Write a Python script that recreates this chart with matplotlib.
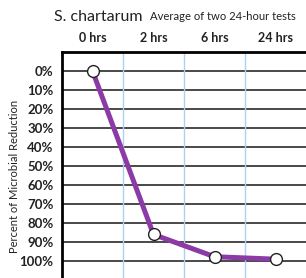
import matplotlib.pyplot as plt
import numpy as np

# datos
tiempos = ['0 hrs', '2 hrs', '6 hrs', '24 hrs']
reduccion = [0, 86, 97.7, 99]
etiquetas_y = ['0%', '10%', '20%', '30%', '40%', '50%', '60%', '70%', '80%', '90%', '100%']
niveles = np.arange(0, 101, 10)

plt.rcParams['font.family'] = ['Lato', 'DejaVu Sans']

fig = plt.figure(figsize=(3.06, 2.78), dpi=100)
ax = fig.add_axes([62 / 306, 0, 1 - 62 / 306, 1 - 52 / 278])

x = np.arange(len(tiempos))

# lineas de la cuadricula
for n in niveles:
    ax.axhline(n, color='#2a2a2a', lw=1.2, zorder=1)
for b in x[1:] - 0.5:
    ax.axvline(b, color='#a9d1f2', lw=1.0, zorder=1)

ax.plot(x, reduccion, color='#8b3aa6', lw=3.6, zorder=2,
        marker='o', markersize=8.5, markerfacecolor='white',
        markeredgecolor='#222222', markeredgewidth=1.0)

ax.set_xlim(-0.5, 3.5)
ax.set_ylim(108.9, -10)

ax.set_yticks(niveles)
ax.set_yticklabels(etiquetas_y, fontsize=9.5, fontweight='bold', color='#222222')
ax.set_xticks(x)
ax.set_xticklabels(tiempos, fontsize=9, fontweight='bold', color='#222222')
ax.xaxis.tick_top()
ax.tick_params(axis='x', length=0, pad=5.5)
ax.tick_params(axis='y', length=0, pad=6)

for lado in ['right', 'bottom']:
    ax.spines[lado].set_visible(False)
ax.spines['left'].set_linewidth(2)
ax.spines['top'].set_linewidth(2)

fig.text(54 / 306, 1 - 17 / 278, 'S. chartarum', fontsize=11.5, va='center', ha='left', color='#222222')
fig.text(150 / 306, 1 - 17 / 278, 'Average of two 24-hour tests', fontsize=8.1, va='center', ha='left', color='#222222')
fig.text(15 / 306, 1 - 176 / 278, 'Percent of Microbial Reduction', fontsize=8, rotation=90,
         va='center', ha='center', color='#222222')

fig.savefig('out.png', dpi=100)
